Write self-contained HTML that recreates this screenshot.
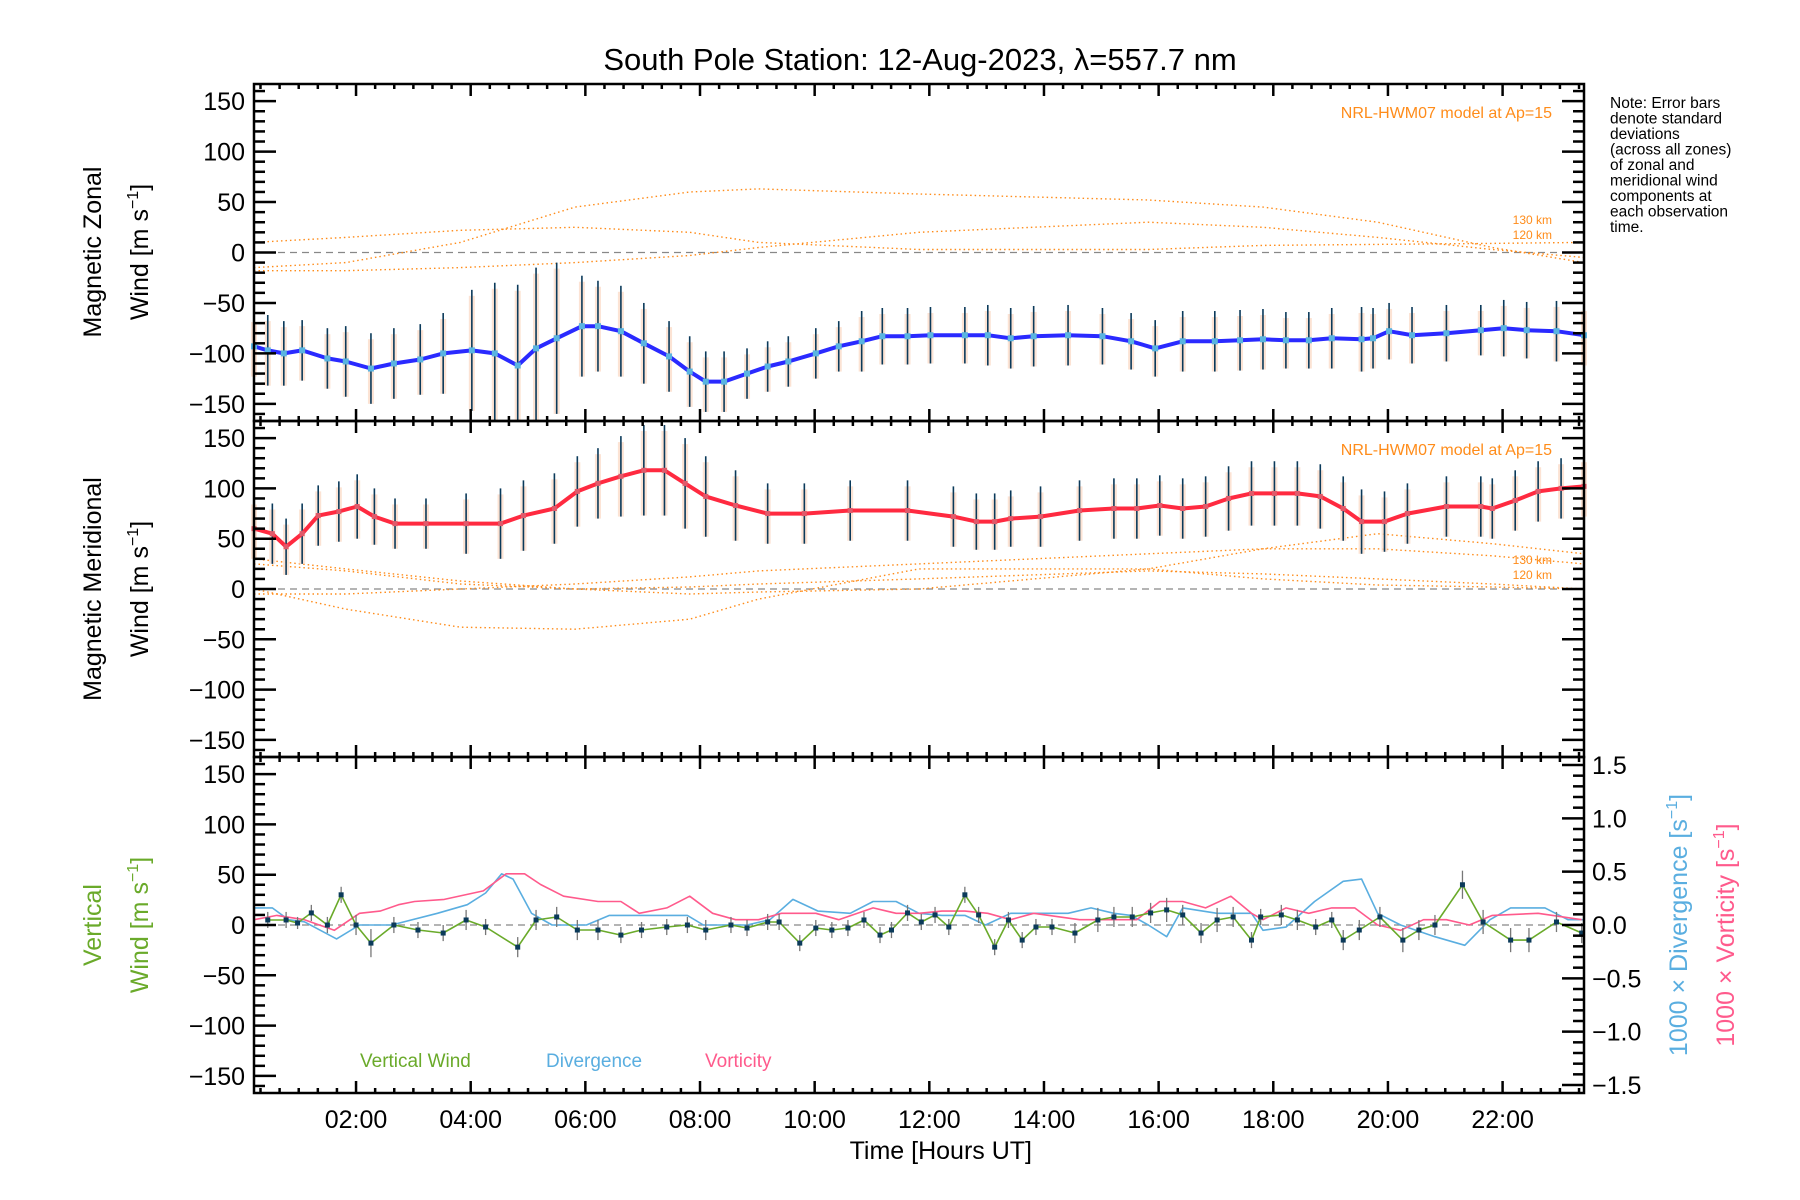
<!DOCTYPE html>
<html><head><meta charset="utf-8">
<style>
html,body{margin:0;padding:0;background:#fff;}
svg{display:block;font-family:"Liberation Sans","DejaVu Sans",sans-serif;}
</style></head>
<body>
<svg id="chart" width="1800" height="1200" viewBox="0 0 1800 1200" xmlns="http://www.w3.org/2000/svg">
<rect width="1800" height="1200" fill="#fff"/>
<text x="920" y="70" font-size="31" text-anchor="middle">South Pole Station: 12-Aug-2023, λ=557.7 nm</text>
<g id="note" font-size="15.5">
<text x="1610" y="108">Note: Error bars</text>
<text x="1610" y="123.5">denote standard</text>
<text x="1610" y="139">deviations</text>
<text x="1610" y="154.5">(across all zones)</text>
<text x="1610" y="170">of zonal and</text>
<text x="1610" y="185.5">meridional wind</text>
<text x="1610" y="201">components at</text>
<text x="1610" y="216.5">each observation</text>
<text x="1610" y="232">time.</text>
</g>
</svg>
<script>
// ---------- data ----------
const zonalTimes=[0.22,0.46,0.74,1.06,1.50,1.82,2.26,2.66,3.12,3.52,4.02,4.42,4.82,5.14,5.50,5.94,6.22,6.62,7.02,7.46,7.82,8.10,8.42,8.82,9.18,9.54,10.02,10.42,10.82,11.18,11.62,12.02,12.62,13.02,13.42,13.82,14.42,15.02,15.52,15.94,16.42,16.98,17.42,17.82,18.22,18.62,19.02,19.54,19.74,20.02,20.42,21.02,21.62,22.02,22.42,22.94,23.42];
const zonalMean=[-93,-97,-100,-97,-105,-108,-115,-110,-106,-100,-97,-100,-112,-95,-85,-73,-73,-78,-90,-103,-118,-128,-128,-120,-113,-108,-100,-93,-88,-83,-83,-82,-82,-82,-85,-83,-82,-83,-88,-95,-88,-88,-87,-86,-87,-87,-85,-86,-85,-78,-82,-80,-77,-75,-77,-78,-82];
const zonalSigma=[30,35,32,30,30,35,35,35,35,40,60,70,80,80,75,50,45,45,40,35,35,30,30,25,25,25,25,25,30,28,28,28,28,30,30,30,30,28,28,28,30,30,30,30,28,28,30,32,30,28,28,28,25,28,28,30,30];
const meridTimes=[0.22,0.54,0.78,1.06,1.34,1.70,2.02,2.32,2.68,3.22,3.92,4.52,4.92,5.46,5.86,6.22,6.62,7.02,7.38,7.74,8.10,8.62,9.18,9.82,10.62,11.62,12.42,12.82,13.14,13.42,13.94,14.62,15.22,15.62,16.02,16.42,16.82,17.22,17.62,18.02,18.42,18.82,19.22,19.54,19.94,20.34,21.02,21.62,21.82,22.22,22.62,23.02,23.42];
const meridMean=[60,55,42,55,73,77,82,72,65,65,65,65,73,80,97,105,112,118,118,105,92,83,75,75,78,78,72,67,67,70,72,78,80,80,83,80,82,90,95,95,95,92,80,67,67,75,82,82,80,88,97,100,102];
const meridSigma=[30,30,28,30,30,30,32,28,25,25,30,35,35,35,35,35,40,45,45,45,40,35,30,30,30,30,30,28,28,28,30,30,30,30,30,30,30,32,32,32,32,32,32,32,30,30,30,30,30,30,30,30,30];
const vertTimes=[0.46,0.78,0.98,1.22,1.50,1.74,2.00,2.26,2.66,3.08,3.52,3.92,4.26,4.82,5.14,5.50,5.86,6.22,6.62,6.98,7.42,7.78,8.10,8.54,8.82,9.18,9.38,9.74,10.02,10.30,10.58,10.86,11.14,11.34,11.62,11.86,12.10,12.34,12.62,12.86,13.14,13.38,13.62,13.86,14.14,14.54,14.94,15.22,15.54,15.86,16.14,16.42,16.74,17.02,17.30,17.62,17.78,18.14,18.42,18.74,19.02,19.22,19.50,19.86,20.26,20.54,20.82,21.30,21.66,22.14,22.46,22.94,23.38];
const vertWind=[5,5,2,12,0,30,0,-18,0,-5,-8,5,-2,-22,5,8,-5,-5,-10,-5,-2,0,-5,0,-3,3,3,-18,-3,-5,-3,5,-10,-5,12,3,10,-2,30,10,-22,5,-15,-2,-2,-8,5,8,8,12,15,10,-8,5,8,-15,8,10,5,-2,5,-15,-5,8,-15,-5,0,40,3,-15,-15,3,-8];
const vertSigma=[8,8,6,8,8,8,10,14,8,8,8,10,8,10,10,10,10,10,8,8,8,8,10,8,8,8,8,8,8,8,8,8,8,8,8,8,8,8,8,8,8,8,8,8,8,10,12,10,10,10,12,10,10,12,10,8,8,10,10,8,8,10,10,10,12,10,10,14,12,12,12,10,10];
const divTimes=[0.22,0.54,0.82,1.10,1.66,2.06,2.62,3.42,3.94,4.26,4.54,4.74,5.06,5.42,6.02,6.42,7.02,7.78,8.06,8.46,8.82,9.22,9.62,10.06,10.62,11.02,11.42,11.82,12.22,12.62,12.98,13.42,14.42,14.82,15.22,15.52,15.82,16.14,16.42,17.02,17.62,17.82,18.22,18.72,19.22,19.54,19.82,20.22,20.82,21.34,21.78,22.14,22.74,23.14,23.42];
const divergence=[0.16,0.16,0.05,0.03,-0.13,0,0,0.11,0.19,0.30,0.48,0.43,0.11,0,0,0.09,0.09,0.09,0,0,0,0.05,0.24,0.13,0.11,0.22,0.22,0.11,0.09,0.09,0,0.11,0.11,0.16,0.11,0.09,0,-0.11,0.16,0.11,0.11,-0.05,-0.02,0.22,0.41,0.43,0.11,0,-0.11,-0.19,0.05,0.16,0.16,0.05,0.05];
const vortTimes=[0.22,0.62,1.10,1.62,2.06,2.42,2.74,3.02,3.54,4.22,4.62,4.94,5.22,5.62,6.22,6.62,6.94,7.42,7.82,8.22,8.62,9.02,9.42,10.02,10.42,11.02,11.42,11.82,12.22,12.62,13.02,13.42,13.82,14.62,15.02,15.62,16.02,16.42,16.82,17.26,17.62,17.82,18.22,18.62,19.02,19.42,19.82,20.22,20.62,21.02,21.42,21.82,22.62,23.38];
const vorticity=[0.05,0.09,0.05,-0.05,0.11,0.13,0.19,0.22,0.24,0.32,0.48,0.48,0.38,0.27,0.22,0.22,0.11,0.16,0.27,0.11,0.05,0.05,0.11,0.11,0.05,0.16,0.11,0.11,0.13,0.13,0.11,0.05,0.11,0.05,0.05,0.05,0.22,0.22,0.16,0.27,0.11,0.05,0.16,0.11,0.16,0.16,0,-0.05,0.05,0.05,0,0.09,0.11,0.05];
// model curves (hours, m/s)
const hwmTimes=[0.22,1.82,3.82,5.82,7.82,9.02,11.82,15.82,17.82,19.82,21.82,23.42];
const hwmZonalA=[-15,-10,10,45,60,63,58,52,45,30,5,-10];
const hwmZonalB=[10,15,22,25,20,10,3,3,7,8,9,10];
const hwmZonalC=[-18,-18,-15,-10,-3,5,20,30,25,15,3,-5];
const hwmMeridA=[0,-20,-38,-40,-30,-10,20,20,10,4,2,0];
const hwmMeridB=[30,20,8,0,-5,-3,0,20,40,55,45,35];
const hwmMeridC=[-5,-5,0,5,12,18,25,35,40,40,33,25];
const hwmMeridD=[25,18,5,0,2,5,10,18,15,10,5,0];
const yTicks=[150,100,50,0,-50,-100,-150];
const rTicks=[1.5,1.0,0.5,0.0,-0.5,-1.0,-1.5];
const xTickHours=[2,4,6,8,10,12,14,16,18,20,22];
const xTickLabels=['02:00','04:00','06:00','08:00','10:00','12:00','14:00','16:00','18:00','20:00','22:00'];

// ---------- layout ----------
const NS='http://www.w3.org/2000/svg';
const svg=document.getElementById('chart');
const X0=254,X1=1584,T0=0.22,T1=23.42;
const panels=[{top:84,bot:421},{top:421,bot:757},{top:757,bot:1093}];
const YMAX=167;
function xs(h){return X0+(h-T0)/(T1-T0)*(X1-X0);}
function ys(p,v){const P=panels[p];const c=(P.top+P.bot)/2;return c-v*(P.bot-P.top)/(2*YMAX);}
function yr(v){const P=panels[2];const c=(P.top+P.bot)/2;return c-v*(P.bot-P.top)/(2*1.575);}
function mk(tag,attrs,parent){const e=document.createElementNS(NS,tag);for(const k in attrs)e.setAttribute(k,attrs[k]);(parent||svg).appendChild(e);return e;}
function txt(x,y,s,attrs,parent){const e=mk('text',Object.assign({x:x,y:y},attrs),parent);e.textContent=s;return e;}

function poly(ts,vs,f,stroke,w,extra,name){
  let d='';for(let i=0;i<ts.length;i++)d+=(i?'L':'M')+xs(ts[i]).toFixed(1)+','+f(vs[i]).toFixed(1);
  const e=mk('path',Object.assign({d:d,fill:'none',stroke:stroke,'stroke-width':w,'stroke-linejoin':'round'},extra||{}));
  
  
  return e;
}
function errbars(ts,vs,ss,f,p,name){
  const g=mk('g',{});
  
  
  for(let i=0;i<ts.length;i++){
    const x=xs(ts[i]);
    let y1=Math.max(f(vs[i]+ss[i]),panels[p].top),y2=Math.min(f(vs[i]-ss[i]),panels[p].bot);
    if(p<2){mk('rect',{x:x-3,y:y1+6,width:6,height:Math.max(0,y2-y1-6),fill:'#fbd9c6',opacity:0.75},g);}
    mk('line',{x1:x,x2:x,y1:y1,y2:y2,stroke:p<2?'#0b3a5a':'#777','stroke-width':p<2?1.6:1.3},g);
  }
}
function dots(ts,vs,f,fill,r,name){
  const g=mk('g',{});
  
  
  for(let i=0;i<ts.length;i++)mk('rect',{x:xs(ts[i])-r,y:f(vs[i])-r,width:2*r,height:2*r,fill:fill},g);
}

// zero lines
for(let p=0;p<3;p++){const z=mk('line',{x1:X0,x2:X1,y1:ys(p,0),y2:ys(p,0),stroke:'#888','stroke-width':1.3,'stroke-dasharray':'7,5'});
}

// model curves
const modelCol='#ff8c1a';
[[0,hwmZonalA],[0,hwmZonalB],[0,hwmZonalC],[1,hwmMeridA],[1,hwmMeridB],[1,hwmMeridC],[1,hwmMeridD]].forEach(([p,arr])=>{
  poly(hwmTimes,arr,v=>ys(p,v),modelCol,1.4,{'stroke-dasharray':'1.5,3'},'hwm-model-curve');
});

// panel 1 zonal
errbars(zonalTimes,zonalMean,zonalSigma,v=>ys(0,v),0,'zonal-error-bars');
poly(zonalTimes,zonalMean,v=>ys(0,v),'#2a2aff',4,{},'zonal-mean-line');
dots(zonalTimes,zonalMean,v=>ys(0,v),'#5ab4e0',3,'zonal-points');
// panel 2 meridional
errbars(meridTimes,meridMean,meridSigma,v=>ys(1,v),1,'meridional-error-bars');
poly(meridTimes,meridMean,v=>ys(1,v),'#ff2a40',4,{},'meridional-mean-line');
dots(meridTimes,meridMean,v=>ys(1,v),'#e05a6a',2.5,'meridional-points');
// panel 3
poly(divTimes,divergence,yr,'#5aaee0',1.6,{},'divergence-line');
poly(vortTimes,vorticity,yr,'#ff5a8c',1.6,{},'vorticity-line');
errbars(vertTimes,vertWind,vertSigma,v=>ys(2,v),2,'vertical-wind-error-bars');
poly(vertTimes,vertWind,v=>ys(2,v),'#6aaa2a',1.6,{},'vertical-wind-line');
dots(vertTimes,vertWind,v=>ys(2,v),'#0b3a5a',2.5,'vertical-wind-points');

// axes
for(let p=0;p<3;p++){
  const P=panels[p];
  const fr=mk('rect',{x:X0,y:P.top,width:X1-X0,height:P.bot-P.top,fill:'none',stroke:'#000','stroke-width':2.5});
  
  const g=mk('g',{stroke:'#000'});
  
  for(let v=-160;v<=160;v+=10){
    const y=ys(p,v);const major=v%50===0;const L=major?22:11;
    mk('line',{x1:X0,x2:X0+L,y1:y,y2:y,'stroke-width':2.5},g);
    if(p<2)mk('line',{x1:X1,x2:X1-L,y1:y,y2:y,'stroke-width':2.5},g);
  }
  if(p===2){for(let i=-15;i<=15;i++){const v=i/10;const y=yr(v);const L=(i%5===0)?22:11;mk('line',{x1:X1,x2:X1-L,y1:y,y2:y,'stroke-width':2.5},g);}}
  for(let m=20;m<=23*60+20;m+=20){
    const h=m/60;if(h<T0||h>T1)continue;const x=xs(h);
    const L=(m%120===0)?12:5;
    mk('line',{x1:x,x2:x,y1:P.bot,y2:P.bot-L,'stroke-width':2.5},g);
    mk('line',{x1:x,x2:x,y1:P.top,y2:P.top+L,'stroke-width':2.5},g);
  }
  yTicks.forEach(v=>{const t=txt(245,ys(p,v)+9,String(v).replace('-','−'),{'font-size':25,'text-anchor':'end'});
    });
}
rTicks.forEach(v=>{const t=txt(1592,yr(v)+9,v.toFixed(1).replace('-','−'),{'font-size':25});
  });
xTickHours.forEach((h,i)=>{const t=txt(xs(h),1128,xTickLabels[i],{'font-size':25,'text-anchor':'middle'});
  });
const xt=txt(xs(12.2),1159,'Time [Hours UT]',{'font-size':25,'text-anchor':'middle'});


// y titles
function rotT(x,y,s,col,name){const t=txt(x,y,s,{'font-size':25,'text-anchor':'middle',fill:col,transform:'rotate(-90 '+x+' '+y+')'});
  return t;}
function unit(x,y,col,name){const t=mk('text',{x:x,y:y,'font-size':25,'text-anchor':'middle',fill:col,transform:'rotate(-90 '+x+' '+y+')'});
  
  t.innerHTML='Wind [m s<tspan font-size="16" dy="-10">−1</tspan><tspan dy="10">]</tspan>';}
rotT(101,252,'Magnetic Zonal','#000','zonal-y-title');unit(148,252,'#000','zonal-y-unit');
rotT(101,589,'Magnetic Meridional','#000','meridional-y-title');unit(148,589,'#000','meridional-y-unit');
rotT(101,925,'Vertical','#6aaa2a','vertical-y-title');unit(148,925,'#6aaa2a','vertical-y-unit');
(function(){const t=mk('text',{x:1687,y:925,'font-size':25,'text-anchor':'middle',fill:'#5aaee0',transform:'rotate(-90 1687 925)'});

t.innerHTML='1000 × Divergence [s<tspan font-size="16" dy="-10">−1</tspan><tspan dy="10">]</tspan>';
const u=mk('text',{x:1734,y:935,'font-size':25,'text-anchor':'middle',fill:'#ff5a8c',transform:'rotate(-90 1734 935)'});

u.innerHTML='1000 × Vorticity [s<tspan font-size="16" dy="-10">−1</tspan><tspan dy="10">]</tspan>';})();

// model labels
[[118,224,239],[455,564,579]].forEach(a=>{
  const n=txt(1552,a[0],'NRL-HWM07 model at Ap=15',{'font-size':16,'text-anchor':'end',fill:modelCol});
  
  const k1=txt(1552,a[1],'130 km',{'font-size':12,'text-anchor':'end',fill:modelCol});
  
  const k2=txt(1552,a[2],'120 km',{'font-size':12,'text-anchor':'end',fill:modelCol});
  
});
// legend
const l1=txt(360,1067,'Vertical Wind',{'font-size':19,fill:'#6aaa2a'});

const l2=txt(546,1067,'Divergence',{'font-size':19,fill:'#5aaee0'});

const l3=txt(705,1067,'Vorticity',{'font-size':19,fill:'#ff5a8c'});

</script>
</body></html>
